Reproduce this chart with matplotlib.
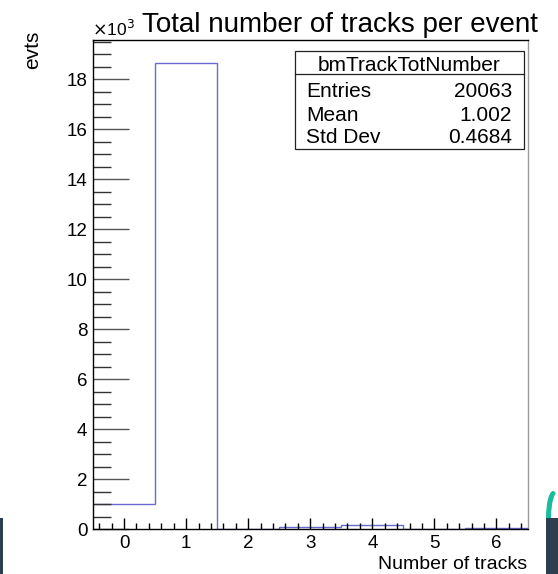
import matplotlib
matplotlib.use("Agg")
import matplotlib.pyplot as plt
from matplotlib.patches import Rectangle, Ellipse
from matplotlib.lines import Line2D
from matplotlib.ticker import MultipleLocator, FuncFormatter, FixedLocator

plt.rcParams['font.family'] = ['Liberation Sans', 'DejaVu Sans']

# Histogram contents: number of reconstructed tracks per event
track_bins = [0, 1, 2, 3, 4, 5, 6]
counts = [1000, 18670, 0, 90, 190, 0, 40]
bin_edges = [-0.5, 0.5, 1.5, 2.5, 3.5, 4.5, 5.5, 6.5]

hist_name = "bmTrackTotNumber"
stat_labels = ["Entries", "Mean", "Std Dev"]
stat_values = ["20063", "1.002", "0.4684"]

title = "Total number of tracks per event"
x_title = "Number of tracks"
y_title = "evts"

W, H = 558, 574
fig = plt.figure(figsize=(W / 100, H / 100), dpi=100)
fig.patch.set_facecolor("white")


def fx(px):
    return px / W


def fy(py):
    return 1 - py / H


ax_l, ax_r, ax_t, ax_b = 93, 527.5, 40, 529.3
ax = fig.add_axes([fx(ax_l), fy(ax_b), fx(ax_r - ax_l), (ax_b - ax_t) / H])

ax.stairs(counts, bin_edges, baseline=None, color="#6a6ad2", linewidth=1.0)

ax.set_xlim(-0.5, 6.5)
ax.set_ylim(0, 19570)

for side in ("left", "bottom", "top"):
    ax.spines[side].set_color("black")
    ax.spines[side].set_linewidth(1.0)
ax.spines["right"].set_color("#9a9a9a")
ax.spines["right"].set_linewidth(1.0)

ax.xaxis.set_major_locator(FixedLocator(track_bins))
ax.xaxis.set_minor_locator(MultipleLocator(0.2))
ax.yaxis.set_major_locator(MultipleLocator(2000))
ax.yaxis.set_minor_locator(MultipleLocator(500))
ax.yaxis.set_major_formatter(FuncFormatter(lambda v, p: f"{v / 1000:.0f}"))

ax.tick_params(axis="x", which="major", direction="in", length=8, width=1,
               labelsize=13.5, pad=4, top=False)
ax.tick_params(axis="x", which="minor", direction="in", length=4, width=1, top=False)
ax.tick_params(axis="y", which="major", direction="in", length=26, width=1,
               labelsize=13.5, pad=4, right=False, color="#555555")
ax.tick_params(axis="y", which="minor", direction="in", length=13, width=1,
               right=False, color="#333333")

# Titles
fig.text(fx(340), fy(32), title, ha="center", va="baseline", fontsize=20)
fig.text(fx(92), fy(36), r"$\times$10$^{3}$", ha="left", va="baseline", fontsize=12.5)
fig.text(fx(33), fy(31), y_title, ha="center", va="top", rotation=90, fontsize=15)
fig.text(fx(527), fy(569), x_title, ha="right", va="baseline", fontsize=14)

# Statistics box
bx_l, bx_r, bx_t, bx_b, bx_sep = 295, 523.5, 51, 149, 74.3
fig.patches.append(Rectangle((fx(bx_l), fy(bx_b)), fx(bx_r - bx_l), (bx_b - bx_t) / H,
                             transform=fig.transFigure, facecolor="white",
                             edgecolor="#222222", linewidth=0.9, zorder=5))
fig.lines.append(Line2D([fx(bx_l), fx(bx_r)], [fy(bx_sep), fy(bx_sep)],
                        transform=fig.transFigure, color="#222222", linewidth=0.9, zorder=6))
fig.text(fx((bx_l + bx_r) / 2), fy(71), hist_name, ha="center", va="baseline",
         fontsize=15, zorder=7)
for lab, val, base in zip(stat_labels, stat_values, [96.6, 120.6, 143.3]):
    fig.text(fx(306), fy(base), lab, ha="left", va="baseline", fontsize=15, zorder=7)
    fig.text(fx(512), fy(base), val, ha="right", va="baseline", fontsize=15, zorder=7)

# Window decorations along the bottom edge
fig.patches.append(Rectangle((0, 0), fx(2.5), (H - 518) / H, transform=fig.transFigure,
                             facecolor="#2c3e50", edgecolor="none"))
fig.patches.append(Ellipse((fx(553), fy(518)), fx(14), 54 / H, transform=fig.transFigure,
                           facecolor="#1abc9c", edgecolor="none"))
fig.patches.append(Ellipse((fx(559), fy(518)), fx(16), 54 / H, transform=fig.transFigure,
                           facecolor="white", edgecolor="none"))
fig.patches.append(Rectangle((fx(546), 0), fx(12), (H - 518) / H, transform=fig.transFigure,
                             facecolor="#2c3e50", edgecolor="none"))

fig.savefig("out.png", dpi=100, facecolor="white")
